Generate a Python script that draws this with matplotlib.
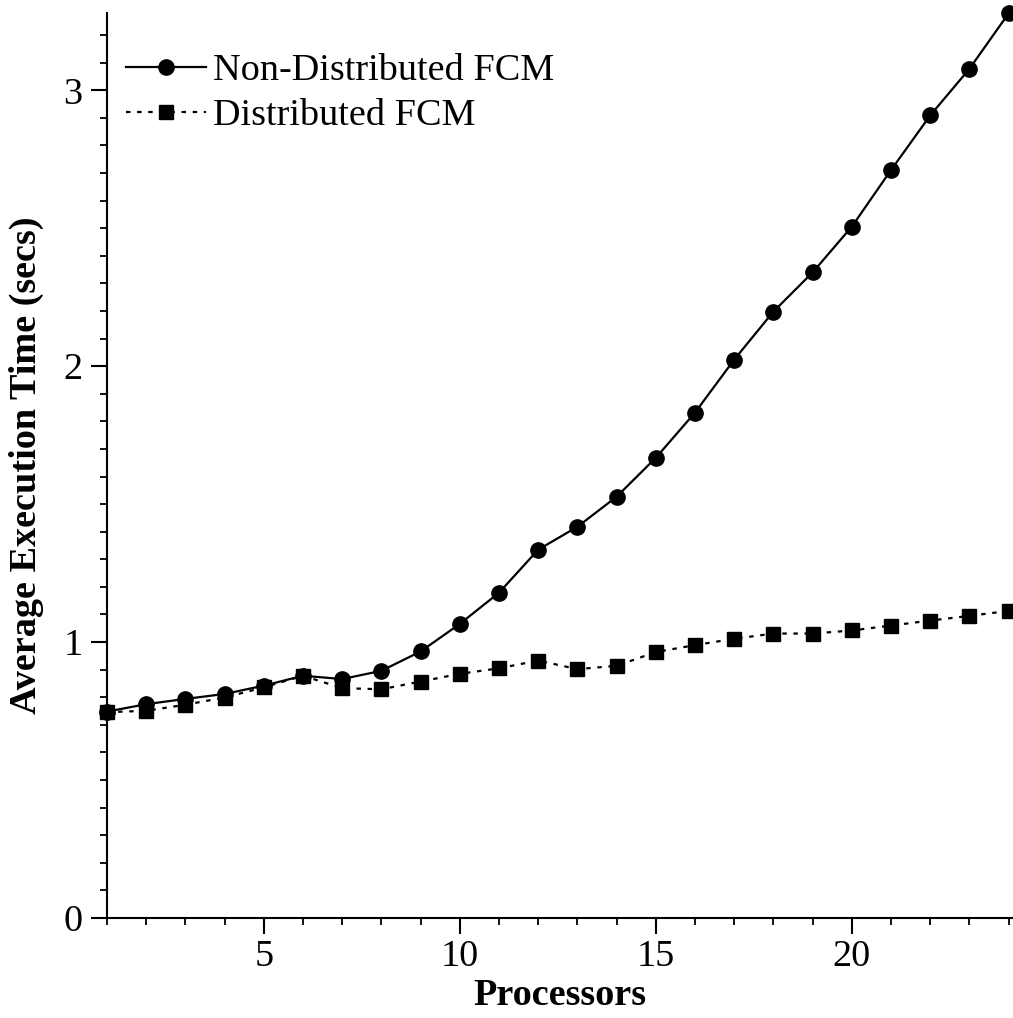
import matplotlib
matplotlib.use("Agg")
import matplotlib.pyplot as plt
from matplotlib.ticker import MultipleLocator

plt.rcParams['font.family'] = ['Liberation Serif', 'DejaVu Serif']

processors = list(range(1, 25))
non_distributed = [0.748, 0.775, 0.794, 0.812, 0.842, 0.878, 0.866, 0.896, 0.966, 1.066,
                   1.179, 1.335, 1.418, 1.527, 1.668, 1.832, 2.024, 2.198, 2.340, 2.506,
                   2.711, 2.909, 3.078, 3.279]
distributed = [0.746, 0.751, 0.773, 0.799, 0.836, 0.878, 0.833, 0.829, 0.857, 0.885,
               0.905, 0.933, 0.902, 0.914, 0.964, 0.989, 1.012, 1.031, 1.031, 1.042,
               1.060, 1.078, 1.095, 1.113]
series_labels = ["Non-Distributed FCM", "Distributed FCM"]
x_ticks = [5, 10, 15, 20]
y_ticks = [0, 1, 2, 3]

fig = plt.figure(figsize=(10.13, 10.18), dpi=100)
ax = fig.add_axes([107/1013, 100/1018, (1013-107)/1013, (918-13)/1018])

ax.plot(processors, non_distributed, color='black', lw=1.6, marker='o', ms=11,
        label=series_labels[0], clip_on=False, zorder=3)
ax.plot(processors, distributed, color='black', lw=1.6, marker='s', ms=10,
        dashes=(2, 3), label=series_labels[1], clip_on=False, zorder=3)

ax.set_xlim(1, 24.11)
ax.set_ylim(0, 3.28)

for s in ['top', 'right']:
    ax.spines[s].set_visible(False)
for s in ['left', 'bottom']:
    ax.spines[s].set_linewidth(1.5)

ax.set_xticks(x_ticks)
ax.xaxis.set_minor_locator(MultipleLocator(1))
ax.set_yticks(y_ticks)
ax.yaxis.set_minor_locator(MultipleLocator(0.1))

ax.tick_params(axis='both', which='major', direction='out', length=11.5, width=1.5,
               labelsize=27.5, pad=6)
ax.tick_params(axis='both', which='minor', direction='out', length=5, width=1.3)
ax.tick_params(axis='x', which='major', pad=4)

ax.set_xlabel("Processors", fontsize=27.5, fontweight='bold', labelpad=3)
ax.set_ylabel("Average Execution Time (secs)", fontsize=27.5, fontweight='bold', labelpad=14)

ax.legend(loc='upper left', bbox_to_anchor=(-0.009, 0.985), frameon=False, fontsize=27.5,
          handlelength=2.1, handletextpad=0.2, labelspacing=0.28, borderaxespad=0.3)

fig.savefig("out.png", dpi=100)
